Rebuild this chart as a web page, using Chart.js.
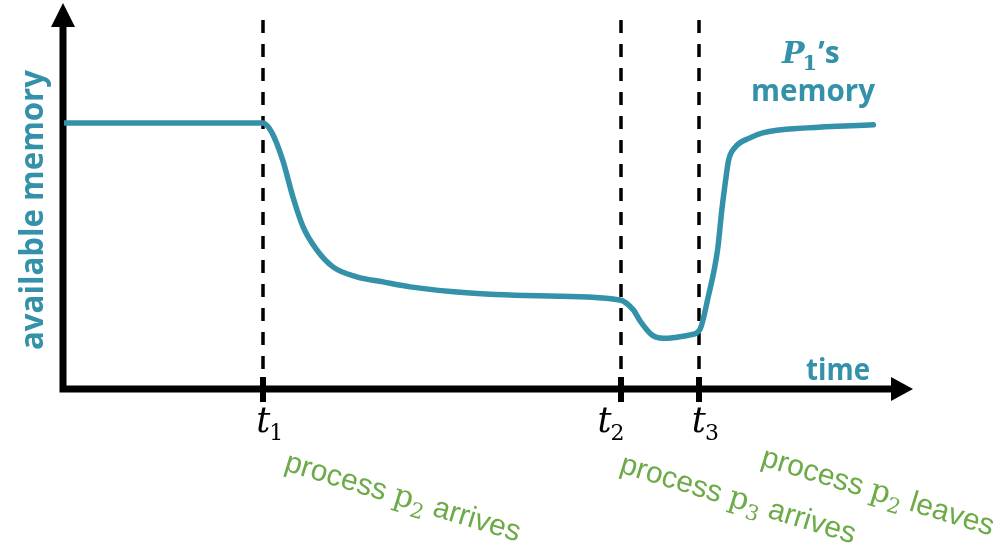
<!DOCTYPE html>
<html>
<head>
<meta charset="utf-8">
<script src="https://cdn.jsdelivr.net/npm/chart.js@4.4.1/dist/chart.umd.min.js"></script>
<style>
  html, body { margin: 0; padding: 0; background: #fff; }
  #wrap { width: 1003px; height: 550px; }
</style>
</head>
<body>
<div id="wrap"><canvas id="chart" width="1003" height="550"></canvas></div>
<script>
// P1's available memory over time (x: 0..100 time units, y: 0..100 memory units)
const TIME   = [0, 23.4, 24.4, 25.7, 26.9, 28.1, 29.7, 31.6, 34.4, 37.5, 40.7, 47.7, 57.1, 65.3,
                66.9, 67.7, 68.5, 69.2, 70.0, 71.0, 72.0, 73.6, 74.7, 75.7, 76.8, 77.3, 77.7, 78.1,
                78.8, 80.6, 82.1, 87.3, 95.1];
const MEMORY = [69.3, 69.3, 66.9, 59.6, 50.0, 42.2, 36.2, 31.8, 29.2, 27.9, 26.6, 25.0, 24.2, 23.2,
                20.6, 17.7, 15.4, 13.9, 13.3, 13.2, 13.5, 14.1, 15.4, 24.0, 36.2, 46.6, 53.6, 59.6,
                62.8, 65.4, 66.7, 68.0, 68.8];

// event markers t1, t2, t3
const EVENT_TIMES = [23.4, 65.5, 74.6];
const EVENT_SUBS  = ["1", "2", "3"];
const NOTE_PROC   = ["2", "3", "2"];
const NOTE_VERB   = ["arrives", "arrives", "leaves"];

const AXIS_TITLE_Y = "available memory";
const AXIS_TITLE_X = "time";
const SERIES_SUB   = "1";
const SERIES_NAME  = "memory";

// layout tweaks (pixels, relative to each event line)
const TLABEL_DX = [-7, -24, -7];
const NOTE_DX   = [20, -3, 61];
const NOTE_Y    = [470, 472, 465];

const TEAL = "#3391a9", GREEN = "#6cab47", INK = "#000";

// draw a list of text runs left to right from (x, y) baseline
function drawRuns(ctx, runs, x, y) {
  for (const r of runs) {
    ctx.font = r.font;
    ctx.fillText(r.text, x, y + (r.dy || 0));
    x += ctx.measureText(r.text).width + (r.gap || 0);
  }
}

// text squeezed/stretched horizontally to a target width
function fitText(ctx, text, font, x, y, width) {
  ctx.save();
  ctx.font = font;
  const w = ctx.measureText(text).width;
  ctx.translate(x, y);
  ctx.scale(width / w, 1);
  ctx.fillText(text, 0, 0);
  ctx.restore();
}

const sketch = {
  id: "sketch",
  beforeDatasetsDraw(chart) {
    const { ctx, scales: { x, y } } = chart;
    const x0 = x.getPixelForValue(0), y0 = y.getPixelForValue(0);
    ctx.save();
    // dashed event lines + ticks under the axis
    ctx.strokeStyle = INK;
    EVENT_TIMES.forEach(t => {
      const px = Math.round(x.getPixelForValue(t));
      ctx.lineWidth = 3.5;
      ctx.setLineDash([13, 11]);
      ctx.beginPath(); ctx.moveTo(px, 20); ctx.lineTo(px, y0); ctx.stroke();
      ctx.setLineDash([]);
      ctx.lineWidth = 6;
      ctx.beginPath(); ctx.moveTo(px, y0 - 12); ctx.lineTo(px, y0 + 13); ctx.stroke();
    });
    // axes with arrow heads
    ctx.lineWidth = 7;
    ctx.lineCap = "butt";
    ctx.beginPath();
    ctx.moveTo(x0 - 1, y.top + 20); ctx.lineTo(x0 - 1, y0 + 3.5);
    ctx.moveTo(x0 - 4.5, y0); ctx.lineTo(x.right - 20, y0);
    ctx.stroke();
    ctx.fillStyle = INK;
    ctx.beginPath();
    ctx.moveTo(x0 - 1, y.top - 2); ctx.lineTo(x0 - 13, y.top + 22); ctx.lineTo(x0 + 11, y.top + 22);
    ctx.closePath(); ctx.fill();
    ctx.beginPath();
    ctx.moveTo(x.right - 2, y0); ctx.lineTo(x.right - 24, y0 - 12); ctx.lineTo(x.right - 24, y0 + 12);
    ctx.closePath(); ctx.fill();
    ctx.restore();
  },
  afterDatasetsDraw(chart) {
    const { ctx, scales: { x, y } } = chart;
    const y0 = y.getPixelForValue(0);
    ctx.save();
    ctx.textBaseline = "alphabetic";

    // t labels
    ctx.fillStyle = INK;
    EVENT_TIMES.forEach((t, i) => {
      const px = x.getPixelForValue(t) + TLABEL_DX[i];
      drawRuns(ctx, [
        { text: "t", font: 'italic 35px "DejaVu Serif"', gap: -1 },
        { text: EVENT_SUBS[i], font: '22px "DejaVu Serif"', dy: 8 }
      ], px, y0 + 43);
    });

    // green notes, tilted
    ctx.fillStyle = GREEN;
    EVENT_TIMES.forEach((t, i) => {
      ctx.save();
      ctx.translate(x.getPixelForValue(t) + NOTE_DX[i], NOTE_Y[i]);
      ctx.rotate(17 * Math.PI / 180);
      drawRuns(ctx, [
        { text: "process ", font: '30px "Liberation Sans"' },
        { text: "p", font: '31px "DejaVu Serif"' },
        { text: NOTE_PROC[i], font: '21px "DejaVu Serif"', dy: 7 },
        { text: " " + NOTE_VERB[i], font: '30px "Liberation Sans"' }
      ], 0, 0);
      ctx.restore();
    });

    // axis titles
    ctx.fillStyle = TEAL;
    ctx.save();
    ctx.translate(43, 350);
    ctx.rotate(-Math.PI / 2);
    fitText(ctx, AXIS_TITLE_Y, 'bold 32px "Open Sans"', 0, 0, 280);
    ctx.restore();
    fitText(ctx, AXIS_TITLE_X, 'bold 30px "Open Sans"', 806, 380, 64);

    // series label
    drawRuns(ctx, [
      { text: "P", font: 'bold italic 30px "DejaVu Serif"', gap: -2 },
      { text: SERIES_SUB, font: 'bold 21px "DejaVu Serif"', dy: 7, gap: 1 },
      { text: "\u2019s", font: 'bold 30px "Open Sans"' }
    ], 782, 63);
    fitText(ctx, SERIES_NAME, 'bold 31px "Open Sans"', 751, 101, 124);
    ctx.restore();
  }
};

new Chart(document.getElementById("chart"), {
  type: "line",
  data: {
    datasets: [{
      data: TIME.map((t, i) => ({ x: t, y: MEMORY[i] })),
      borderColor: TEAL,
      borderWidth: 5.5,
      pointRadius: 0,
      fill: false,
      cubicInterpolationMode: "monotone",
      borderCapStyle: "round"
    }]
  },
  options: {
    responsive: false,
    animation: false,
    devicePixelRatio: 1,
    layout: { padding: { left: 64, right: 88, top: 5, bottom: 161 } },
    plugins: { legend: { display: false }, tooltip: { enabled: false } },
    scales: {
      x: { type: "linear", min: 0, max: 100, display: false },
      y: { min: 0, max: 100, display: false }
    }
  },
  plugins: [sketch]
});
</script>
</body>
</html>
